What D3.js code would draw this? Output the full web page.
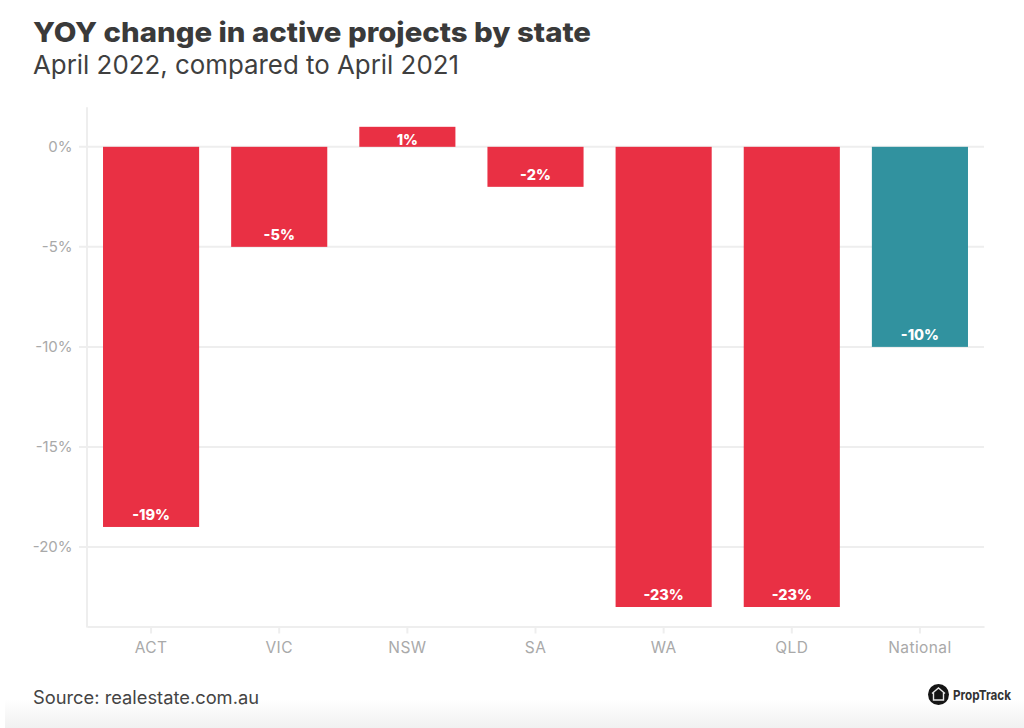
<!DOCTYPE html>
<html><head><meta charset="utf-8">
<style>html,body{margin:0;padding:0;background:#fff;overflow:hidden}svg{display:block}text{font-family:Inter,"Noto Sans",sans-serif}</style>
<script src="https://cdnjs.cloudflare.com/ajax/libs/d3/7.8.5/d3.min.js"></script>
</head><body><svg id="c" width="1024" height="728"></svg>
<script>
const categories=["ACT","VIC","NSW","SA","WA","QLD","National"];
const values=[-19,-5,1,-2,-23,-23,-10];
const yTicks=[0,-5,-10,-15,-20];
const svg=d3.select("#c");
const defs=svg.append("defs");
const g=defs.append("linearGradient").attr("id","fade").attr("x1",0).attr("x2",0).attr("y1",0).attr("y2",1);
g.append("stop").attr("offset",0).attr("stop-color","#fff");
g.append("stop").attr("offset",1).attr("stop-color","#f1f1f1");
svg.append("rect").attr("x",5).attr("y",700).attr("width",1019).attr("height",28).attr("fill","url(#fade)");

const L=87,R=984,T=106.8,B=627;
const x=d3.scaleBand().domain(categories).range([L,R]).padding(0.125).paddingInner(0.25);
const y=d3.scaleLinear().domain([2,-24]).range([T,B]);
const grid="#eeeeee",tick="#a9a9a9";

svg.append("g").selectAll("line").data(yTicks).join("line")
 .attr("x1",L-8).attr("x2",R).attr("y1",d=>y(d)).attr("y2",d=>y(d)).attr("stroke",grid).attr("stroke-width",2);

const ya=svg.append("g").attr("transform",`translate(${L-0.5},0)`).call(d3.axisLeft(y).tickValues(yTicks).tickFormat(d=>d+"%").tickSize(0).tickPadding(14));
ya.select(".domain").attr("stroke",grid).attr("stroke-width",2);
ya.selectAll("text").attr("fill",tick).attr("font-size",15);

const xa=svg.append("g").attr("transform",`translate(0,${B-0.5})`).call(d3.axisBottom(x).tickSizeInner(7).tickSizeOuter(0).tickPadding(8));
xa.select(".domain").attr("stroke",grid).attr("stroke-width",2);
xa.selectAll("line").attr("stroke",grid).attr("stroke-width",2);
xa.selectAll("text").attr("fill",tick).attr("font-size",15.5).attr("letter-spacing",0.4);

svg.append("g").selectAll("rect").data(values).join("rect")
 .attr("x",(d,i)=>x(categories[i])).attr("width",x.bandwidth())
 .attr("y",d=>y(Math.max(d,0))).attr("height",d=>Math.abs(y(d)-y(0)))
 .attr("fill",(d,i)=>categories[i]==="National"?"#31929f":"#e93044");

svg.append("g").selectAll("text").data(values).join("text")
 .attr("x",(d,i)=>x(categories[i])+x.bandwidth()/2)
 .attr("y",d=>d<0?y(d)-7:y(0)-2)
 .attr("text-anchor","middle").attr("fill","#fff").attr("font-size",14.5).attr("font-weight",800)
 .text(d=>d+"%");

svg.append("text").attr("x",33).attr("y",42).attr("font-size",27.5).attr("font-weight",800).attr("fill","#3a3a3a").attr("textLength",558).attr("lengthAdjust","spacingAndGlyphs").text("YOY change in active projects by state");
svg.append("text").attr("x",33).attr("y",74).attr("font-size",26).attr("fill","#3f3f3f").attr("textLength",426).attr("lengthAdjust","spacingAndGlyphs").text("April 2022, compared to April 2021");
svg.append("text").attr("x",33).attr("y",704).attr("font-size",18).attr("fill","#444").attr("textLength",226).attr("lengthAdjust","spacingAndGlyphs").text("Source: realestate.com.au");

svg.append("circle").attr("cx",938.5).attr("cy",694.5).attr("r",10.5).attr("fill","#151515");
svg.append("path").attr("d","M932 693.5 L938.5 688 L945 693.5 M933.5 692.5 V700 H943.5 V692.5").attr("fill","none").attr("stroke","#e8e8e8").attr("stroke-width",1.4);
svg.append("text").attr("x",953).attr("y",700).attr("font-size",13.5).attr("font-weight",700).attr("fill","#333").attr("textLength",58).attr("lengthAdjust","spacingAndGlyphs").text("PropTrack");
</script></body></html>
